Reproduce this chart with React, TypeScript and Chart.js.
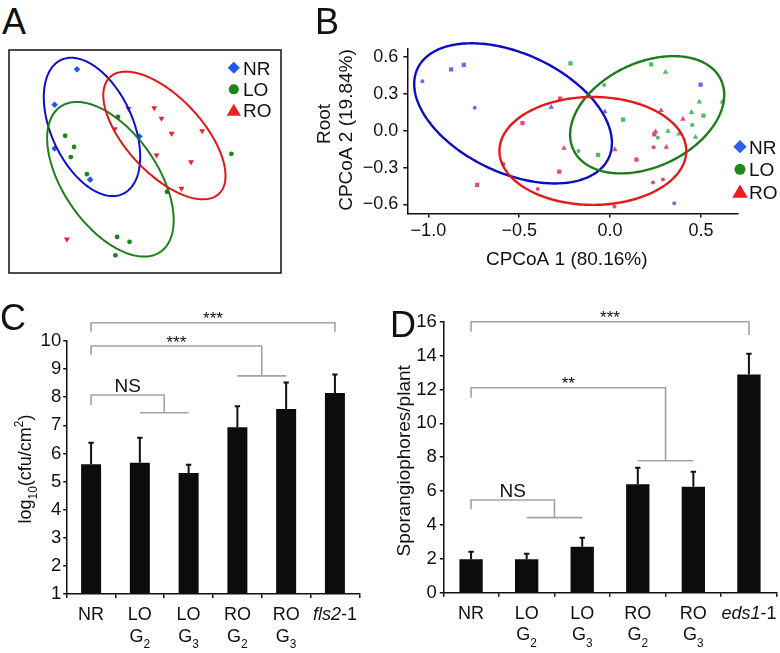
import React, { useEffect, useRef } from 'react';
import { Chart, registerables } from 'chart.js';

Chart.register(...registerables);

const FONT = '"Liberation Sans", Arial, Helvetica, sans-serif';
const INK = '#111111';
const GRAY = '#a3a3a3';

// ---------------- Panel A (ordination, arbitrary units) ----------------
const aNR = [[69, 207.3], [46.3, 171.3], [46.3, 126.7], [82.3, 95], [132.3, 139]];
const aLO = [[110.7, 159], [57, 139.7], [66, 128.3], [62.7, 118], [79, 100.7], [225.7, 121.3], [160.3, 82.7], [109.7, 36.7], [122.3, 31.7], [108, 18]];
const aRO = [[121.3, 167.3], [147.3, 168], [154.7, 157.3], [107.3, 146.7], [165, 142], [196, 144.7], [149.7, 120], [184.7, 113], [175, 86], [58.7, 34.3]];
// ellipse: centre x, centre y, x half-extent, y half-extent, correlation
const aEllNR = [84.2, 148.7, 48.9, 70.4, -0.43];
const aEllLO = [102.9, 95.4, 64.2, 78.7, -0.53];
const aEllRO = [157.7, 140, 62, 65, -0.63];
const groups = ['NR', 'LO', 'RO'];

// ---------------- Panel B (CPCoA) ----------------
const bNR = [[-1.033, 0.403], [-0.875, 0.499], [-0.805, 0.536], [-0.745, 0.188], [0.498, 0.376], [-0.324, 0.193], [-0.029, 0.155], [0.353, -0.589]];
const bNRShape = ['circle', 'rect', 'rect', 'circle', 'rect', 'triangle', 'triangle', 'circle'];
const bLO = [[-0.218, 0.548], [0.226, 0.54], [0.305, 0.477], [-0.033, 0.373], [0.491, 0.234], [0.617, 0.234], [0.448, 0.15], [0.514, 0.123], [0.072, 0.09], [0.452, 0.046], [0.318, -0.003], [0.379, -0.025], [0.263, -0.057], [0.47, -0.052], [-0.174, -0.164], [-0.066, -0.196]];
const bLOShape = ['rect', 'rect', 'triangle', 'circle', 'triangle', 'triangle', 'triangle', 'rect', 'rect', 'circle', 'triangle', 'triangle', 'circle', 'triangle', 'circle', 'rect'];
const bRO = [[-0.482, 0.062], [-0.732, -0.441], [-0.398, -0.474], [-0.587, -0.27], [-0.275, 0.262], [0.28, 0.166], [0.401, 0.095], [0.25, -0.008], [0.243, -0.03], [0.239, -0.134], [0.309, -0.134], [-0.254, -0.142], [0.026, -0.153], [0.145, -0.235], [-0.28, -0.333], [0.236, -0.42], [0.291, -0.396], [0.024, -0.616]];
const bROShape = ['rect', 'rect', 'circle', 'circle', 'rect', 'triangle', 'triangle', 'triangle', 'rect', 'circle', 'triangle', 'triangle', 'triangle', 'rect', 'rect', 'circle', 'circle', 'circle'];
const bEllNR = [-0.534, 0.1415, 0.544, 0.57, -0.42];
const bEllLO = [0.204, 0.13, 0.424, 0.477, 0.34];
const bEllRO = [-0.095, -0.164, 0.514, 0.439, 0.0];
const bXTicks = [-1.0, -0.5, 0.0, 0.5];
const bYTicks = [-0.6, -0.3, 0.0, 0.3, 0.6];
const bXTitle = 'CPCoA 1 (80.16%)';
const bYTitle1 = 'Root';
const bYTitle2 = 'CPCoA 2 (19.84%)';

// ---------------- Panel C ----------------
const cLabels = ['NR', 'LO|G_2', 'LO|G_3', 'RO|G_2', 'RO|G_3', '*fls2*-1'];
const cValues = [5.62, 5.67, 5.3, 6.93, 7.58, 8.15];
const cErrors = [0.76, 0.89, 0.3, 0.75, 0.94, 0.66];
const cYTicks = [1, 2, 3, 4, 5, 6, 7, 8, 9, 10];
// [from, toA, toB, start level, bracket level, end level, label]
const cBrackets = [
  [0, 1, 2, 7.72, 8.08, 7.45, 'NS'],
  [0, 3, 4, 9.5, 9.82, 8.76, '***'],
  [0, 5, 5, 10.33, 10.65, 10.33, '***'],
];
const cYTitle = 'log_10(cfu/cm^2)';

// ---------------- Panel D ----------------
const dLabels = ['NR', 'LO|G_2', 'LO|G_3', 'RO|G_2', 'RO|G_3', '*eds1*-1'];
const dValues = [1.97, 1.97, 2.72, 6.4, 6.26, 12.89];
const dErrors = [0.45, 0.33, 0.53, 0.98, 0.88, 1.22];
const dYTicks = [0, 2, 4, 6, 8, 10, 12, 14, 16];
const dBrackets = [
  [0, 1, 2, 4.92, 5.47, 4.43, 'NS'],
  [0, 3, 4, 11.51, 12.1, 7.79, '**'],
  [0, 5, 5, 15.41, 16.0, 15.21, '***'],
];
const dYTitle = 'Sporangiophores/plant';

// ---------------- helpers ----------------
function ellipsePath(ctx: any, chart: any, e: number[]) {
  const xs = chart.scales.x;
  const ys = chart.scales.y;
  const [cx, cy, sx, sy, rho] = e;
  const k = Math.sqrt(1 - rho * rho);
  ctx.beginPath();
  for (let i = 0; i <= 240; i++) {
    const t = (i / 240) * Math.PI * 2;
    const x = cx + sx * Math.cos(t);
    const y = cy + sy * (rho * Math.cos(t) + k * Math.sin(t));
    const px = xs.getPixelForValue(x);
    const py = ys.getPixelForValue(y);
    if (i === 0) ctx.moveTo(px, py);
    else ctx.lineTo(px, py);
  }
  ctx.closePath();
}

function drawMarker(ctx: any, shape: string, x: number, y: number, s: number, color: string) {
  ctx.fillStyle = color;
  ctx.beginPath();
  if (shape === 'diamond') {
    const h = s * 0.55;
    ctx.moveTo(x, y - h);
    ctx.lineTo(x + h, y);
    ctx.lineTo(x, y + h);
    ctx.lineTo(x - h, y);
  } else if (shape === 'circle') {
    ctx.arc(x, y, s * 0.46, 0, Math.PI * 2);
  } else {
    const hw = s * 0.65;
    ctx.moveTo(x, y - s * 0.6);
    ctx.lineTo(x + hw, y + s * 0.5);
    ctx.lineTo(x - hw, y + s * 0.5);
  }
  ctx.closePath();
  ctx.fill();
}

function parseRich(text: string, size: number) {
  const segs: any[] = [];
  const re = /\*([^*]+)\*|_(\w+)|\^(\w+)|([^*_^]+)/g;
  let m: any;
  while ((m = re.exec(text))) {
    if (m[1]) segs.push({ t: m[1], it: true, dy: 0, s: size });
    else if (m[2]) segs.push({ t: m[2], it: false, dy: size * 0.36, s: size * 0.66 });
    else if (m[3]) segs.push({ t: m[3], it: false, dy: -size * 0.42, s: size * 0.66 });
    else segs.push({ t: m[4], it: false, dy: 0, s: size });
  }
  return segs;
}

function drawRich(ctx: any, text: string, cx: number, baseline: number, size: number) {
  const segs = parseRich(text, size);
  const fontOf = (sg: any) => `${sg.it ? 'italic ' : ''}${sg.s}px ${FONT}`;
  let w = 0;
  segs.forEach((sg) => {
    ctx.font = fontOf(sg);
    sg.w = ctx.measureText(sg.t).width;
    w += sg.w;
  });
  let x = cx - w / 2;
  ctx.textAlign = 'left';
  ctx.textBaseline = 'alphabetic';
  segs.forEach((sg) => {
    ctx.font = fontOf(sg);
    ctx.fillText(sg.t, x, baseline + sg.dy);
    x += sg.w;
  });
}

function drawRotated(ctx: any, text: string, baseX: number, centerY: number, size: number) {
  ctx.save();
  ctx.translate(baseX, centerY);
  ctx.rotate(-Math.PI / 2);
  ctx.fillStyle = INK;
  drawRich(ctx, text, 0, 0, size);
  ctx.restore();
}

// ---------------- Panel A ----------------
function makeA(canvas: HTMLCanvasElement) {
  const colors = ['#2356ee', '#1b861b', '#ec2226'];
  const ellColors = ['#0c10cc', '#1f7f1f', '#e11717'];
  const plugin = {
    id: 'aDecor',
    afterDatasetsDraw(chart: any) {
      const ctx = chart.ctx;
      const ca = chart.chartArea;
      ctx.save();
      [aEllNR, aEllLO, aEllRO].forEach((e, i) => {
        ellipsePath(ctx, chart, e);
        ctx.strokeStyle = ellColors[i];
        ctx.lineWidth = 2;
        ctx.stroke();
      });
      ctx.strokeStyle = INK;
      ctx.lineWidth = 1.5;
      ctx.strokeRect(ca.left, ca.top, ca.right - ca.left, ca.bottom - ca.top);
      const shapes = ['diamond', 'circle', 'triangle'];
      const rowY = [17.7, 39.3, 60.3];
      groups.forEach((g, i) => {
        const y = ca.top + rowY[i];
        drawMarker(ctx, shapes[i], ca.left + 224.8, y, 11, colors[i]);
        ctx.fillStyle = INK;
        ctx.font = `19px ${FONT}`;
        ctx.textAlign = 'left';
        ctx.textBaseline = 'alphabetic';
        ctx.fillText(g, ca.left + 234, y + 6.8);
      });
      ctx.restore();
    },
  };
  return new Chart(canvas, {
    type: 'scatter',
    data: {
      datasets: [
        { label: 'NR', data: aNR.map(([x, y]) => ({ x, y })), pointStyle: 'rectRot', pointRadius: 3.3, pointBackgroundColor: colors[0], pointBorderColor: colors[0], pointBorderWidth: 0 },
        { label: 'LO', data: aLO.map(([x, y]) => ({ x, y })), pointStyle: 'circle', pointRadius: 2.4, pointBackgroundColor: colors[1], pointBorderColor: colors[1], pointBorderWidth: 0 },
        { label: 'RO', data: aRO.map(([x, y]) => ({ x, y })), pointStyle: 'triangle', pointRotation: 180, pointRadius: 3.4, pointBackgroundColor: colors[2], pointBorderColor: colors[2], pointBorderWidth: 0 },
      ] as any,
    },
    options: {
      animation: false,
      responsive: false,
      events: [],
      layout: { padding: 2 },
      plugins: { legend: { display: false }, tooltip: { enabled: false } },
      scales: {
        x: { type: 'linear', display: false, min: 0, max: 276 },
        y: { type: 'linear', display: false, min: 0, max: 227 },
      },
    } as any,
    plugins: [plugin],
  });
}

// ---------------- Panel B ----------------
function makeB(canvas: HTMLCanvasElement) {
  const ptColors = ['#6b6ce8', '#4dbd5d', '#e9467d'];
  const ellColors = ['#0c0cc6', '#1c7c1c', '#e21a1a'];
  const legColors = ['#2a5cf0', '#1c8a1c', '#ee1c24'];
  const radius: any = { circle: 2.0, rect: 3.0, triangle: 3.2 };
  const fmt = (v: number) => (v < -1e-9 ? '\u2212' : '') + Math.abs(v).toFixed(1);
  const plugin = {
    id: 'bDecor',
    afterDatasetsDraw(chart: any) {
      const ctx = chart.ctx;
      ctx.save();
      [bEllNR, bEllLO, bEllRO].forEach((e, i) => {
        ellipsePath(ctx, chart, e);
        ctx.strokeStyle = ellColors[i];
        ctx.lineWidth = 2.4;
        ctx.stroke();
      });
      ctx.restore();
    },
    afterDraw(chart: any) {
      const ctx = chart.ctx;
      ctx.save();
      ctx.fillStyle = INK;
      drawRich(ctx, bXTitle, 266.7, 245, 19);
      drawRotated(ctx, bYTitle1, 30, 104, 19);
      drawRotated(ctx, bYTitle2, 51.7, 110, 19);
      const shapes = ['diamond', 'circle', 'triangle'];
      const rowY = [126.7, 149.3, 171.7];
      groups.forEach((g, i) => {
        drawMarker(ctx, shapes[i], 440, rowY[i], 12, legColors[i]);
        ctx.fillStyle = INK;
        ctx.font = `19px ${FONT}`;
        ctx.textAlign = 'left';
        ctx.textBaseline = 'alphabetic';
        ctx.fillText(g, 449, rowY[i] + 6.8);
      });
      ctx.restore();
    },
  };
  const ds = (pts: number[][], shapes: string[], color: string, label: string) => ({
    label,
    data: pts.map(([x, y]) => ({ x, y })),
    pointStyle: shapes,
    pointRadius: shapes.map((s) => radius[s]),
    pointBackgroundColor: color,
    pointBorderColor: color,
    pointBorderWidth: 0,
  });
  const axisCommon = {
    grid: { display: true, drawOnChartArea: false, drawTicks: true, tickLength: 4, color: INK, lineWidth: 1.5 },
    border: { display: true, color: INK, width: 1.5 },
  };
  return new Chart(canvas, {
    type: 'scatter',
    data: {
      datasets: [ds(bNR, bNRShape, ptColors[0], 'NR'), ds(bLO, bLOShape, ptColors[1], 'LO'), ds(bRO, bROShape, ptColors[2], 'RO')] as any,
    },
    options: {
      animation: false,
      responsive: false,
      events: [],
      layout: { padding: { top: 29, right: 42.7, left: 0, bottom: 0 } },
      plugins: { legend: { display: false }, tooltip: { enabled: false } },
      scales: {
        x: {
          type: 'linear',
          min: -1.116,
          max: 0.7,
          afterBuildTicks: (s: any) => { s.ticks = bXTicks.map((v) => ({ value: v })); },
          afterFit: (s: any) => { s.height = 68.5; },
          ticks: { font: { family: FONT, size: 18 }, color: INK, padding: 3, maxRotation: 0, autoSkip: false, callback: (v: any) => fmt(Number(v)) },
          ...axisCommon,
        },
        y: {
          type: 'linear',
          min: -0.673,
          max: 0.665,
          afterBuildTicks: (s: any) => { s.ticks = bYTicks.map((v) => ({ value: v })); },
          afterFit: (s: any) => { s.width = 107.3; },
          ticks: { font: { family: FONT, size: 18 }, color: INK, padding: 5, autoSkip: false, callback: (v: any) => fmt(Number(v)) },
          ...axisCommon,
        },
      },
    } as any,
    plugins: [plugin],
  });
}

// ---------------- Panels C & D ----------------
function makeBar(canvas: HTMLCanvasElement, cfg: any) {
  const plugin = {
    id: 'barDecor',
    afterDatasetsDraw(chart: any) {
      const ctx = chart.ctx;
      const xs = chart.scales.x;
      const ys = chart.scales.y;
      ctx.save();
      ctx.strokeStyle = INK;
      ctx.lineWidth = 2;
      cfg.values.forEach((v: number, i: number) => {
        const x = xs.getPixelForValue(i);
        const y0 = ys.getPixelForValue(v);
        const y1 = ys.getPixelForValue(v + cfg.errors[i]);
        ctx.beginPath();
        ctx.moveTo(x, y0);
        ctx.lineTo(x, y1);
        ctx.moveTo(x - 2.7, y1);
        ctx.lineTo(x + 2.7, y1);
        ctx.stroke();
      });
      ctx.restore();
    },
    afterDraw(chart: any) {
      const ctx = chart.ctx;
      const xs = chart.scales.x;
      const ys = chart.scales.y;
      const ca = chart.chartArea;
      ctx.save();
      // significance brackets
      cfg.brackets.forEach((b: any[]) => {
        const [from, ta, tb, start, level, end, label] = b;
        const x0 = xs.getPixelForValue(from);
        const xm = xs.getPixelForValue((ta + tb) / 2);
        const yl = ys.getPixelForValue(level);
        ctx.strokeStyle = GRAY;
        ctx.lineWidth = 1.6;
        ctx.beginPath();
        ctx.moveTo(x0, ys.getPixelForValue(start));
        ctx.lineTo(x0, yl);
        ctx.lineTo(xm, yl);
        ctx.lineTo(xm, ys.getPixelForValue(end));
        if (ta !== tb) {
          const ye = ys.getPixelForValue(end);
          ctx.moveTo(xs.getPixelForValue(ta), ye);
          ctx.lineTo(xs.getPixelForValue(tb), ye);
        }
        ctx.stroke();
        ctx.fillStyle = INK;
        const star = String(label).startsWith('*');
        ctx.font = `${star ? 17 : 19}px ${FONT}`;
        ctx.textAlign = 'center';
        ctx.textBaseline = 'alphabetic';
        ctx.fillText(label, (x0 + xm) / 2, star ? yl + 1.5 : yl - 3);
      });
      // category labels
      ctx.fillStyle = INK;
      chart.data.labels.forEach((lab: string, i: number) => {
        const x = xs.getPixelForValue(i);
        lab.split('|').forEach((line, j) => {
          drawRich(ctx, line, x, ca.bottom + (j === 0 ? 26 : 47.6), 18);
        });
      });
      drawRotated(ctx, cfg.title, cfg.titleX, cfg.titleY, cfg.titleSize);
      ctx.restore();
    },
  };
  return new Chart(canvas, {
    type: 'bar',
    data: {
      labels: cfg.labels,
      datasets: [
        {
          data: cfg.values,
          backgroundColor: '#0c0c0c',
          borderWidth: 0,
          barPercentage: cfg.barPct,
          categoryPercentage: 1,
          base: cfg.base,
        },
      ] as any,
    },
    options: {
      animation: false,
      responsive: false,
      events: [],
      layout: { padding: { top: cfg.padTop, right: cfg.padRight, left: 0, bottom: 0 } },
      plugins: { legend: { display: false }, tooltip: { enabled: false } },
      scales: {
        x: {
          type: 'category',
          afterFit: (s: any) => { s.height = cfg.xHeight; },
          ticks: { display: false },
          grid: { display: true, offset: true, drawOnChartArea: false, drawTicks: true, tickLength: 4, color: INK, lineWidth: 1.5 },
          border: { display: true, color: INK, width: 1.5 },
        },
        y: {
          type: 'linear',
          min: cfg.min,
          max: cfg.max,
          afterBuildTicks: (s: any) => { s.ticks = cfg.yTicks.map((v: number) => ({ value: v })); },
          afterFit: (s: any) => { s.width = cfg.yWidth; },
          ticks: { font: { family: FONT, size: 18.5 }, color: INK, padding: cfg.tickPad, autoSkip: false },
          grid: { display: true, drawOnChartArea: false, drawTicks: true, tickLength: 3.5, color: INK, lineWidth: 1.5 },
          border: { display: true, color: INK, width: 1.5 },
        },
      },
    } as any,
    plugins: [plugin],
  });
}

const letter = (left: number, top: number): React.CSSProperties => ({
  position: 'absolute',
  left,
  top,
  fontFamily: FONT,
  fontSize: 36,
  lineHeight: '36px',
  color: INK,
  margin: 0,
});

const abs = (left: number, top: number, w: number, h: number): React.CSSProperties => ({
  position: 'absolute',
  left,
  top,
  width: w,
  height: h,
});

export default function App() {
  const refA = useRef<HTMLCanvasElement>(null);
  const refB = useRef<HTMLCanvasElement>(null);
  const refC = useRef<HTMLCanvasElement>(null);
  const refD = useRef<HTMLCanvasElement>(null);

  useEffect(() => {
    const charts = [
      makeA(refA.current as HTMLCanvasElement),
      makeB(refB.current as HTMLCanvasElement),
      makeBar(refC.current as HTMLCanvasElement, {
        labels: cLabels, values: cValues, errors: cErrors, brackets: cBrackets, yTicks: cYTicks,
        min: 1, max: 10, base: 1, barPct: 0.41, yWidth: 66.7, xHeight: 59, padTop: 51, padRight: 30.7, tickPad: 2,
        title: cYTitle, titleX: 31, titleY: 179, titleSize: 18,
      }),
      makeBar(refD.current as HTMLCanvasElement, {
        labels: dLabels, values: dValues, errors: dErrors, brackets: dBrackets, yTicks: dYTicks,
        min: 0, max: 16, base: 0, barPct: 0.42, yWidth: 53.3, xHeight: 60.3, padTop: 31.7, padRight: 3.3, tickPad: 3,
        title: dYTitle, titleX: 20, titleY: 170.8, titleSize: 19,
      }),
    ];
    return () => charts.forEach((c) => c.destroy());
  }, []);

  return (
    <div style={{ position: 'absolute', left: 0, top: 0, width: 780, height: 653, background: '#ffffff', overflow: 'hidden' }}>
      <canvas ref={refA} width={280} height={231} style={abs(5, 46, 280, 231)} />
      <canvas ref={refB} width={480} height={262} style={abs(300, 20, 480, 262)} />
      <canvas ref={refC} width={390} height={363} style={abs(0, 290, 390, 363)} />
      <canvas ref={refD} width={390} height={363} style={abs(390, 290, 390, 363)} />
      <div style={letter(2, 3.5)}>A</div>
      <div style={letter(315, 3.5)}>B</div>
      <div style={letter(0, 300)}>C</div>
      <div style={letter(390, 307)}>D</div>
    </div>
  );
}
